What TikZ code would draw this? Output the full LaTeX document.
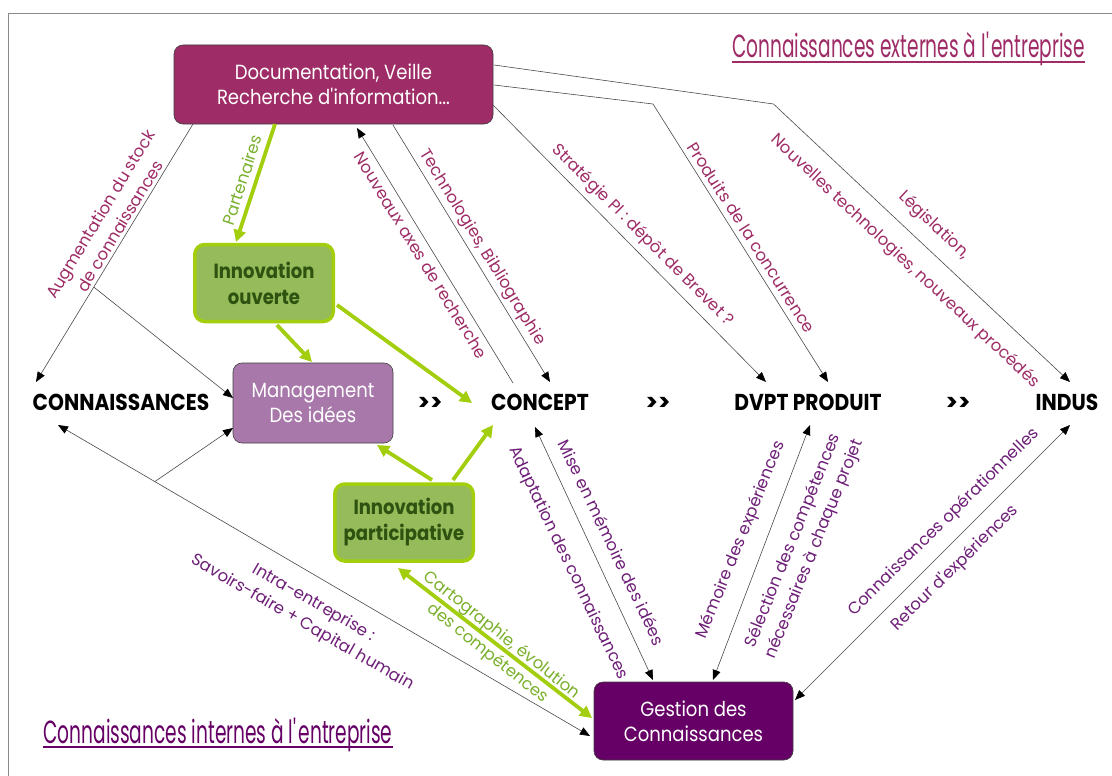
\documentclass[tikz,border=0pt]{standalone}
\usepackage{fontspec}
\setmainfont{Poppins}
\newfontfamily\narrowfont{Poppins}[FakeStretch=0.88]
\newfontfamily\titlefont{Poppins}[FakeStretch=0.58]
\usetikzlibrary{arrows.meta,calc}

\definecolor{extcol}{HTML}{9E2C66}
\definecolor{intcol}{HTML}{660066}
\definecolor{intlbl}{HTML}{6E1F78}
\definecolor{mgmtfill}{HTML}{A878AA}
\definecolor{gline}{HTML}{A2CE0E}
\definecolor{gfill}{HTML}{95BB5A}
\definecolor{gtext}{HTML}{2E5210}
\definecolor{glbl}{HTML}{7AB12C}
\definecolor{framegray}{HTML}{8A8A8A}
\definecolor{linecol}{HTML}{4A4A4A}

\tikzset{
  box/.style={rounded corners=9pt, draw=black!75, line width=0.6pt, text=white,
    align=center, inner sep=0pt, font=\narrowfont\fontsize{20.5}{25}\selectfont},
  greenbox/.style={rounded corners=10pt, draw=gline, line width=3.5pt, fill=gfill,
    text=gtext, align=center, inner sep=0pt,
    minimum width=138.5pt, minimum height=77pt,
    font=\narrowfont\bfseries\fontsize{20.5}{26}\selectfont},
  stage/.style={inner sep=0pt, text=black, font=\narrowfont\bfseries\fontsize{23}{26}\selectfont},
  chevron/.style={inner sep=0pt, text=black, font=\bfseries\fontsize{23}{26}\selectfont},
  link/.style={draw=linecol, line width=0.6pt, >={Triangle[length=10pt,width=8pt,color=black]}},
  glink/.style={draw=gline, line width=3.8pt, >={Triangle[length=12pt,width=12pt]}},
  lbl/.style={inner sep=0pt, align=center, font=\fontsize{16.5}{23}\selectfont},
  extlbl/.style={lbl, text=extcol},
  intlbl/.style={lbl, text=intlbl},
  grnlbl/.style={lbl, text=glbl},
  heading/.style={inner sep=0pt, anchor=base, font=\titlefont\fontsize{32}{36}\selectfont}
}

\begin{document}
\begin{tikzpicture}[x=1pt, y=-1pt]
\useasboundingbox (0,0) rectangle (1112,776);
\fill[white] (0,0) rectangle (1112,776);
% page frame
\draw[framegray, line width=0.9pt] (8.6,1000) -- (8.6,13.5) -- (1200,13.5);

% headings
\node[heading, text=extcol] (hext) at (908.5,58) {Connaissances externes à l\textquotesingle entreprise};
\draw[extcol, line width=1.4pt] ([yshift=-4pt]hext.base west) -- ([yshift=-4pt]hext.base east);
\node[heading, text=intcol] (hint) at (218,743) {Connaissances internes à l\textquotesingle entreprise};
\draw[intcol, line width=1.4pt] ([yshift=-4pt]hint.base west) -- ([yshift=-4pt]hint.base east);

% boxes
\node[box, fill=extcol, minimum width=319pt, minimum height=79pt] (doc) at (333.5,84.5)
  {Documentation, Veille\\Recherche d\textquotesingle information...};
\node[greenbox] (io) at (264,283) {Innovation\\ouverte};
\node[box, fill=mgmtfill, minimum width=160pt, minimum height=80pt] (mgmt) at (313,403)
  {Management\\Des idées};
\node[greenbox] (ip) at (404,522.5) {Innovation\\participative};
\node[box, fill=intcol, minimum width=199pt, minimum height=78pt] (gest) at (693.5,721)
  {Gestion des\\Connaissances};

% stages of the chain
\node[stage] (conn) at (121,402) {CONNAISSANCES};
\node[stage] (concept) at (540,402) {CONCEPT};
\node[stage] (dvpt) at (808,402) {DVPT PRODUIT};
\node[stage] (indus) at (1067,402) {INDUS};
\node[chevron] (s1) at (430,404) {>\kern0pt>};
\node[chevron] (s2) at (658,404) {>\kern0pt>};
\node[chevron] (s3) at (958,404) {>\kern0pt>};

% external knowledge flows
\draw[link,->] ($(doc)+(-140.5,39.5)$) -- coordinate[pos=0.632] (augb) ($(conn)+(-85,-20)$);
\draw[link,->] (augb) -- ($(mgmt)+(-80,-5)$);
\draw[link,->] ($(concept)+(-27,-19)$) -- ($(doc)+(23.5,43.5)$);
\draw[link,->] ($(doc)+(59.5,40.5)$) -- ($(concept)+(10,-20)$);
\draw[link,->] ($(doc)+(159.5,20.5)$) -- ($(dvpt)+(-42,-20)$);
\draw[link,->] ($(doc)+(160.5,0.5)$) -- ($(dvpt)+(-155,-298)$) -- ($(dvpt)+(20,-20)$);
\draw[link,->] ($(doc)+(160.5,-19.5)$) -- ($(indus)+(-293.5,-298)$) -- ($(indus)+(3,-20)$);

% internal knowledge flows
\draw[link,<->] ($(conn)+(-63,23)$) -- coordinate[pos=0.182] (intb) ($(gest)+(-103.5,15)$);
\draw[link,->] (intb) -- ($(mgmt)+(-80,25)$);
\draw[link,<->] ($(concept)+(-5,25)$) -- ($(gest)+(-40.5,-41)$);
\draw[link,<->] ($(dvpt)+(2,23)$) -- ($(gest)+(19.5,-41)$);
\draw[link,<->] ($(indus)+(3,23)$) -- ($(gest)+(101.5,-21)$);

% innovation flows
\draw[glink,->] ($(doc)+(-58.5,39.5)$) -- ($(io)+(-28,-41)$);
\draw[glink,->] ($(io)+(13,42)$) -- ($(mgmt)+(-1,-41)$);
\draw[glink,->] ($(io)+(73,22)$) -- ($(concept)+(-68,1)$);
\draw[glink,->] ($(ip)+(28,-42.5)$) -- ($(mgmt)+(64,42)$);
\draw[glink,->] ($(ip)+(49,-42.5)$) -- ($(concept)+(-47,23)$);
\draw[glink,<->] ($(ip)+(-6,45.5)$) -- ($(gest)+(-101.5,-3)$);

% flow labels
\node[extlbl, rotate=58.7] (laug) at (110,220) {Augmentation du stock\\de connaissances};
\node[grnlbl, rotate=71.7] (lpart) at (242,180) {Partenaires};
\node[extlbl, rotate=-58.5] (laxes) at (421,255) {Nouveaux axes de recherche};
\node[extlbl, rotate=-58.6] (ltech) at (482,247.5) {Technologies, Bibliographie};
\node[extlbl, rotate=-45] (lstrat) at (642.5,235.5) {Stratégie PI : dépôt de Brevet ?};
\node[extlbl, rotate=-57.5] (lprod) at (751.6,237.5) {Produits de la concurrence};
\node[extlbl, rotate=-43.2] (lnouv) at (905,261.5) {Nouvelles technologies, nouveaux procédés};
\node[extlbl, rotate=-43.2] (lleg) at (934,225.5) {Législation,};
\node[intlbl, rotate=-30] (lintra) at (308,613) {Intra-entreprise :\\Savoirs-faire + Capital humain};
\node[grnlbl, rotate=-38.5] (lcarto) at (494.5,644.5) {Cartographie, évolution\\des compétences};
\node[intlbl, rotate=-64.5] (ladapt) at (568,563) {Adaptation des connaissances};
\node[intlbl, rotate=-64.5] (lmise) at (612,542.5) {Mise en mémoire des idées};
\node[intlbl, rotate=68] (lmem) at (741,540) {Mémoire des expériences};
\node[intlbl, rotate=68] (lsel) at (804,545) {Sélection des compétences\\nécessaires à chaque projet};
\node[intlbl, rotate=44.5] (lop) at (943.7,522.5) {Connaissances opérationnelles};
\node[intlbl, rotate=44.5] (lret) at (955,568) {Retour d\textquotesingle expériences};
\end{tikzpicture}
\end{document}
